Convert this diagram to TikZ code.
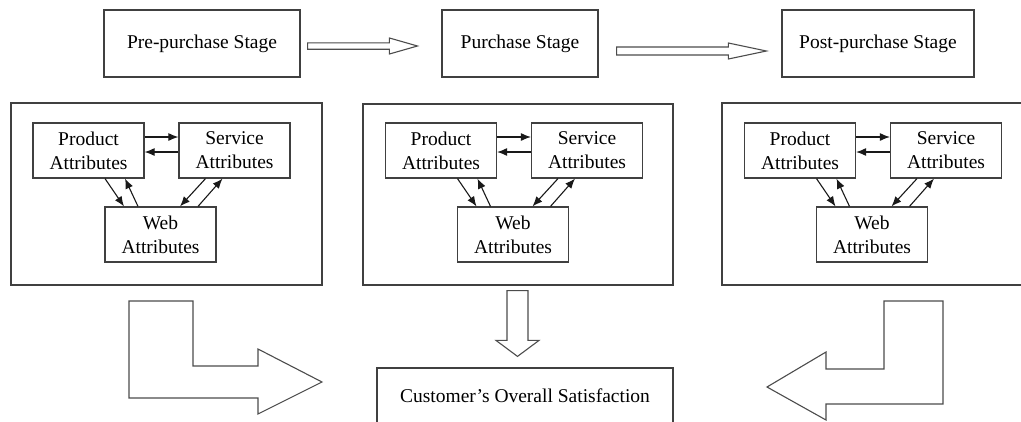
\documentclass[tikz,border=0pt]{standalone}
\usepackage{fontspec}
\setmainfont{Liberation Serif}
\usetikzlibrary{calc,arrows.meta}

% horizontal hollow block arrow: start, tip, shaft half-width, head half-width, head length
\newcommand\hblock[5]{%
  \draw[hollow] let \p1=#1, \p2=#2 in
    (\x1,\y1+#3) -- (\x2-#5,\y1+#3) -- (\x2-#5,\y1+#4) -- (\x2,\y1)
    -- (\x2-#5,\y1-#4) -- (\x2-#5,\y1-#3) -- (\x1,\y1-#3) -- cycle;}
% downward hollow block arrow: start, tip, shaft half-width, head half-width, head length
\newcommand\vblock[5]{%
  \draw[hollow] let \p1=#1, \p2=#2 in
    (\x1-#3,\y1) -- (\x1-#3,\y2+#5) -- (\x1-#4,\y2+#5) -- (\x1,\y2)
    -- (\x1+#4,\y2+#5) -- (\x1+#3,\y2+#5) -- (\x1+#3,\y1) -- cycle;}

\tikzset{
  box/.style={draw=black!75, line width=1.2pt, inner sep=0pt, align=center,
    font=\fontsize{19.5}{24}\selectfont, text=black},
  stagebox/.style={box, minimum height=67pt},
  panel/.style={draw=black!75, line width=1.2pt, inner sep=0pt},
  attr/.style={box, minimum width=111pt, minimum height=55pt},
  link/.style={line width=1.1pt, draw=black!90, -{Latex[length=10pt,width=8pt]}},
  hollow/.style={draw=black!70, line width=1.1pt, fill=white, line join=miter},
}

% one panel of three mutually linked attribute boxes; #1 prefix, #2 x of product box centre
\newcommand\attrpanel[2]{%
  \node[attr] (#1p) at (#2,-150.5) {Product\\Attributes};
  \node[attr] (#1s) at (#2+146,-150.5) {Service\\Attributes};
  \node[attr] (#1w) at (#2+72,-234.5) {Web\\Attributes};
  \draw[link] ([yshift=13.5pt]#1p.east) -- ([yshift=13.5pt]#1s.west);
  \draw[link] ([yshift=-1.5pt]#1s.west) -- ([yshift=-1.5pt]#1p.east);
  \draw[link] ([xshift=16.5pt]#1p.south) -- ([xshift=-36.5pt]#1w.north);
  \draw[link] ([xshift=-22.5pt]#1w.north) -- ([xshift=36.5pt]#1p.south);
  \draw[link] ([xshift=-29pt]#1s.south) -- ([xshift=19.5pt]#1w.north);
  \draw[link] ([xshift=37.5pt]#1w.north) -- ([xshift=-12pt]#1s.south);
}

\begin{document}
\begin{tikzpicture}[x=1pt,y=1pt]
\useasboundingbox (0,0) rectangle (1021,-421);
\clip (0,0) rectangle (1021,-421);

% stages
\node[stagebox, minimum width=196pt] (pre)  at (202,-43.5) {Pre-purchase Stage};
\node[stagebox, minimum width=156pt] (pur)  at (520,-43.5) {Purchase Stage};
\node[stagebox, minimum width=192pt] (post) at (878,-43.5) {Post-purchase Stage};

\hblock{($(pre.east)+(7,-2.5)$)}{($(pur.west)+(-24,-2.5)$)}{3.2pt}{8pt}{28pt}
\hblock{($(pur.east)+(18,-7.5)$)}{($(post.west)+(-15,-7.5)$)}{4pt}{8pt}{38pt}

% attribute panels
\node[panel, minimum width=311pt, minimum height=182pt] (pan1) at (166.5,-194) {};
\node[panel, minimum width=310pt, minimum height=181pt] (pan2) at (518,-194.5) {};
\node[panel, minimum width=310pt, minimum height=182pt] (pan3) at (877,-194) {};

\attrpanel{a}{88.5}
\attrpanel{b}{441}
\attrpanel{c}{800}

% overall satisfaction
\node[box, minimum width=296pt, minimum height=56pt] (cust) at (525,-396)
  {Customer’s Overall Satisfaction};

\vblock{($(pan2.south)+(-0.5,-5)$)}{($(cust.north)+(-7.5,11)$)}{10.5pt}{21.5pt}{16pt}

% bent arrows from the outer panels
\draw[hollow] (129,-301) -- (193,-301) -- (193,-366) -- (258,-366) -- (258,-349)
  -- (322,-382) -- (258,-414) -- (258,-398) -- (129,-398) -- cycle;
\draw[hollow] (943,-301) -- (884,-301) -- (884,-369) -- (826,-369) -- (826,-352)
  -- (767,-387) -- (826,-420) -- (826,-404) -- (943,-404) -- cycle;
\end{tikzpicture}
\end{document}
